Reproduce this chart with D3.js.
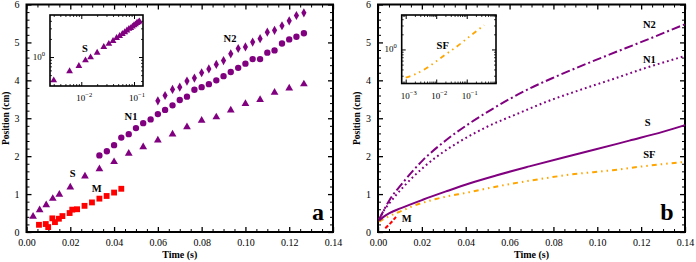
<!DOCTYPE html>
<html><head><meta charset="utf-8">
<script src="https://cdn.jsdelivr.net/npm/d3@7/dist/d3.min.js"></script>
<style>
body{margin:0;background:#fff}
text{font-family:"Liberation Serif","Times New Roman",serif;fill:#000}
</style>
</head><body>
<svg id="c" width="696" height="262"></svg>
<script>
// ---------- data ----------
const xTicks=[0,0.02,0.04,0.06,0.08,0.10,0.12,0.14];
const xTickLabels=["0.00","0.02","0.04","0.06","0.08","0.10","0.12","0.14"];
const yTicks=[0,1,2,3,4,5,6];
const yTickLabels=["0","1","2","3","4","5","6"];

// panel a : measurements
const sTime=[0.003,0.006,0.009,0.012,0.015,0.020,0.0267,0.0333,0.040,0.0467,0.0533,0.060,0.0667,0.0733,0.080,0.0867,0.0933,0.100,0.1067,0.1133,0.120,0.1267];
const sPos=[0.41,0.58,0.71,0.88,0.99,1.18,1.47,1.66,1.85,2.07,2.24,2.42,2.58,2.77,2.94,3.03,3.21,3.38,3.49,3.68,3.79,3.90];
const mTime=[0.0057,0.0088,0.0099,0.0118,0.0130,0.0148,0.0164,0.0197,0.0209,0.0231,0.0265,0.0299,0.0333,0.0366,0.0400,0.0433];
const mPos=[0.19,0.21,0.13,0.36,0.26,0.35,0.42,0.50,0.59,0.60,0.69,0.78,0.88,0.95,1.04,1.14];
const n1Time=[0.0333,0.0367,0.0400,0.0433,0.0467,0.0500,0.0533,0.0567,0.0600,0.0633,0.0667,0.0700,0.0733,0.0767,0.0800,0.0833,0.0867,0.0900,0.0933,0.0967,0.1000,0.1033,0.1067,0.1100,0.1133,0.1167,0.1200,0.1233,0.1267];
const n1Pos=[2.02,2.13,2.29,2.49,2.58,2.74,2.87,2.97,3.11,3.22,3.34,3.48,3.57,3.75,3.82,3.90,4.00,4.11,4.22,4.33,4.44,4.56,4.56,4.73,4.79,4.97,5.08,5.15,5.24];
const n2Time=[0.0600,0.0633,0.0667,0.0700,0.0733,0.0767,0.0800,0.0833,0.0867,0.0900,0.0933,0.0967,0.1000,0.1033,0.1067,0.1100,0.1133,0.1167,0.1200,0.1233,0.1267];
const n2Pos=[3.46,3.60,3.76,3.82,3.98,4.06,4.20,4.30,4.42,4.52,4.70,4.84,4.88,5.01,5.10,5.27,5.32,5.44,5.57,5.71,5.78];

// panel b : model curves
const bN2Time=[0.0005,0.0025,0.0052,0.0105,0.0204,0.031,0.0416,0.0523,0.069,0.0812,0.1025,0.1222,0.14];
const bN2Pos=[0.33,0.56,0.84,1.24,1.89,2.42,2.86,3.25,3.78,4.10,4.61,5.06,5.48];
const bN1Time=[0.0005,0.0025,0.0052,0.0082,0.0158,0.0264,0.0371,0.0492,0.0645,0.0766,0.0918,0.107,0.1222,0.14];
const bN1Pos=[0.33,0.55,0.76,0.97,1.44,1.97,2.38,2.76,3.14,3.43,3.74,4.03,4.33,4.64];
const bSTime=[0.0005,0.0025,0.0052,0.0105,0.0204,0.031,0.0416,0.0538,0.069,0.0842,0.0994,0.1146,0.1298,0.14];
const bSPos=[0.30,0.40,0.50,0.63,0.85,1.07,1.28,1.49,1.73,1.96,2.18,2.41,2.64,2.82];
const bSFTime=[0.0005,0.0025,0.0052,0.0105,0.0158,0.0264,0.0416,0.0568,0.072,0.0872,0.107,0.122,0.14];
const bSFPos=[0.27,0.34,0.42,0.55,0.68,0.87,1.05,1.23,1.38,1.51,1.63,1.74,1.85];
const bMTime=[0.0033,0.0055,0.0082];
const bMPos=[0.10,0.22,0.40];
// panel b inset (log-log)
const sfInsetTime=[0.001,0.002,0.005,0.01,0.02,0.05,0.1,0.2,0.37];
const sfInsetPos=[0.275,0.32,0.43,0.58,0.79,1.17,1.64,2.27,3.05];

const PURPLE="#800080", RED="#ff0000", ORANGE="#ffa500";

// ---------- drawing ----------
const svg=d3.select("#c");

function frameAxes(g,x,y){
  const xr=x.range(), yr=y.range();
  const xMinor=d3.range(0,0.1401,0.005).filter(v=>Math.abs(v/0.02-Math.round(v/0.02))>1e-6);
  const yMinor=d3.range(0,6.001,0.2).filter(v=>Math.abs(v-Math.round(v))>1e-6);
  const clean=s=>s.select(".domain").remove();
  const style=(s,w)=>s.selectAll("line").attr("stroke","#000").attr("stroke-width",w);
  g.append("g").attr("transform",`translate(0,${yr[0]})`)
    .call(d3.axisBottom(x).tickValues(xTicks).tickSize(-5).tickPadding(7).tickFormat((d,i)=>xTickLabels[i]))
    .call(clean).call(s=>style(s,1.3))
    .call(s=>s.selectAll("text").attr("font-size",10).attr("font-family","Liberation Serif"));
  g.append("g").attr("transform",`translate(0,${yr[0]})`)
    .call(d3.axisBottom(x).tickValues(xMinor).tickSize(-3).tickFormat(""))
    .call(clean).call(s=>style(s,1));
  g.append("g").attr("transform",`translate(0,${yr[1]})`)
    .call(d3.axisTop(x).tickValues(xTicks).tickSize(-5).tickFormat(""))
    .call(clean).call(s=>style(s,1.3));
  g.append("g").attr("transform",`translate(0,${yr[1]})`)
    .call(d3.axisTop(x).tickValues(xMinor).tickSize(-3).tickFormat(""))
    .call(clean).call(s=>style(s,1));
  g.append("g").attr("transform",`translate(${xr[0]},0)`)
    .call(d3.axisLeft(y).tickValues(yTicks).tickSize(-5).tickPadding(7).tickFormat((d,i)=>yTickLabels[i]))
    .call(clean).call(s=>style(s,1.3))
    .call(s=>s.selectAll("text").attr("font-size",10).attr("font-family","Liberation Serif"));
  g.append("g").attr("transform",`translate(${xr[0]},0)`)
    .call(d3.axisLeft(y).tickValues(yMinor).tickSize(-3).tickFormat(""))
    .call(clean).call(s=>style(s,1));
  g.append("g").attr("transform",`translate(${xr[1]},0)`)
    .call(d3.axisRight(y).tickValues(yTicks).tickSize(-5).tickFormat(""))
    .call(clean).call(s=>style(s,1.3));
  g.append("g").attr("transform",`translate(${xr[1]},0)`)
    .call(d3.axisRight(y).tickValues(yMinor).tickSize(-3).tickFormat(""))
    .call(clean).call(s=>style(s,1));
  g.append("rect").attr("x",xr[0]).attr("y",yr[1]).attr("width",xr[1]-xr[0]).attr("height",yr[0]-yr[1])
    .attr("fill","none").attr("stroke","#000").attr("stroke-width",2);
  g.append("text").attr("x",(xr[0]+xr[1])/2).attr("y",258).attr("text-anchor","middle")
    .attr("font-size",10).attr("font-weight","bold").text("Time (s)");
  g.append("text").attr("transform",`translate(${xr[0]-21},${(yr[0]+yr[1])/2}) rotate(-90)`)
    .attr("text-anchor","middle").attr("dy","0.35em").attr("font-size",9.5).attr("font-weight","bold").text("Position (cm)");
}

function logInset(g,box,xDom,yDom,xMajors,yMajors,xLabels,yLabels){
  const x=d3.scaleLog().domain(xDom).range([box.x0,box.x1]);
  const y=d3.scaleLog().domain(yDom).range([box.y1,box.y0]);
  g.append("rect").attr("x",box.x0).attr("y",box.y0).attr("width",box.x1-box.x0).attr("height",box.y1-box.y0)
    .attr("fill","#fff");
  const minors=(dom)=>{const out=[];for(let e=-4;e<=1;e++)for(let m=2;m<=9;m++){const v=m*Math.pow(10,e);if(v>dom[0]&&v<dom[1])out.push(v);}return out;};
  const xm=minors(xDom), ym=minors(yDom);
  const clean=s=>s.select(".domain").remove();
  const st=(s,w)=>s.selectAll("line").attr("stroke","#000").attr("stroke-width",w);
  [[d3.axisBottom,box.y1],[d3.axisTop,box.y0]].forEach(([ax,yy])=>{
    g.append("g").attr("transform",`translate(0,${yy})`)
      .call(ax(x).tickValues(xMajors).tickSize(-4).tickFormat(""))
      .call(clean).call(s=>st(s,1));
    g.append("g").attr("transform",`translate(0,${yy})`)
      .call(ax(x).tickValues(xm).tickSize(-2).tickFormat(""))
      .call(clean).call(s=>st(s,0.8));
  });
  [[d3.axisLeft,box.x0],[d3.axisRight,box.x1]].forEach(([ax,xx])=>{
    g.append("g").attr("transform",`translate(${xx},0)`)
      .call(ax(y).tickValues(yMajors).tickSize(-4).tickFormat(""))
      .call(clean).call(s=>st(s,1));
    g.append("g").attr("transform",`translate(${xx},0)`)
      .call(ax(y).tickValues(ym).tickSize(-2).tickFormat(""))
      .call(clean).call(s=>st(s,0.8));
  });
  g.append("rect").attr("x",box.x0).attr("y",box.y0).attr("width",box.x1-box.x0).attr("height",box.y1-box.y0)
    .attr("fill","none").attr("stroke","#000").attr("stroke-width",1.6);
  xMajors.forEach((v,i)=>{
    const t=g.append("text").attr("x",x(v)+3).attr("y",box.y1+15).attr("text-anchor","middle").attr("font-size",9);
    t.append("tspan").text("10");
    t.append("tspan").attr("dy",-4).attr("font-size",6.5).text(xLabels[i]);
  });
  yMajors.forEach((v,i)=>{
    const t=g.append("text").attr("x",box.x0-5).attr("y",y(v)+3).attr("text-anchor","end").attr("font-size",9);
    t.append("tspan").text("10");
    t.append("tspan").attr("dy",-4).attr("font-size",6.5).text(yLabels[i]);
  });
  return {x,y};
}

function label(g,x,y,txt,size){
  g.append("text").attr("x",x).attr("y",y).attr("dy","0.35em").attr("text-anchor","middle")
    .attr("font-size",size||10.5).attr("font-weight","bold").text(txt);
}

const diamond="M0,-4.6L2.6,0L0,4.6L-2.6,0Z";

// ===== Panel a =====
const ga=svg.append("g");
const xa=d3.scaleLinear().domain([0,0.14]).range([26.5,333]);
const ya=d3.scaleLinear().domain([0,6]).range([232,4.5]);
frameAxes(ga,xa,ya);

const tri=d3.symbol().type(d3.symbolTriangle).size(26)();
const triSmall=d3.symbol().type(d3.symbolTriangle).size(20)();
const circ=d3.symbol().type(d3.symbolCircle).size(32)();
const sq=d3.symbol().type(d3.symbolSquare).size(34)();

ga.append("g").selectAll("path").data(sTime).join("path")
  .attr("d",tri).attr("fill",PURPLE).attr("transform",(d,i)=>`translate(${xa(d)},${ya(sPos[i])})`);
ga.append("g").selectAll("path").data(mTime).join("path")
  .attr("d",sq).attr("fill",RED).attr("transform",(d,i)=>`translate(${xa(d)},${ya(mPos[i])})`);
ga.append("g").selectAll("path").data(n1Time).join("path")
  .attr("d",circ).attr("fill",PURPLE).attr("transform",(d,i)=>`translate(${xa(d)},${ya(n1Pos[i])})`);
ga.append("g").selectAll("path").data(n2Time).join("path")
  .attr("d",diamond).attr("fill",PURPLE).attr("transform",(d,i)=>`translate(${xa(d)},${ya(n2Pos[i])})`);

label(ga,72.7,173,"S");
label(ga,96.7,188,"M");
label(ga,131,116,"N1");
label(ga,230,38,"N2");
label(ga,318,212,"a",24);

const ia=logInset(ga,{x0:50,x1:143,y0:15,y1:86},[0.00255,0.148],[0.33,5.0],[0.01,0.1],[1],["−2","−1"],["0"]);
ga.append("g").selectAll("path").data(sTime).join("path")
  .attr("d",triSmall).attr("fill",PURPLE).attr("transform",(d,i)=>`translate(${ia.x(d)},${ia.y(sPos[i])})`);
label(ga,85,48,"S",10.5);

// ===== Panel b =====
const gb=svg.append("g");
const xb=d3.scaleLinear().domain([0,0.14]).range([378,685]);
const yb=d3.scaleLinear().domain([0,6]).range([232,4.5]);
frameAxes(gb,xb,yb);

const lineB=(T,P)=>d3.line().curve(d3.curveMonotoneX).x((d,i)=>xb(T[i])).y((d,i)=>yb(P[i]))(T);
const drawCurve=(T,P,color,dash,w)=>gb.append("path").attr("d",lineB(T,P)).attr("fill","none")
  .attr("stroke",color).attr("stroke-width",w||2).attr("stroke-dasharray",dash);

drawCurve(bSFTime,bSFPos,ORANGE,"5,4,1.5,4,1.5,4",2);
drawCurve(bSTime,bSPos,PURPLE,null,2);
drawCurve(bN1Time,bN1Pos,PURPLE,"1.8,3",2);
drawCurve(bN2Time,bN2Pos,PURPLE,"9,3,2,3",2);
drawCurve(bMTime,bMPos,RED,"4,2",2);

label(gb,649.3,24,"N2");
label(gb,649.3,59.3,"N1");
label(gb,647.7,122.7,"S");
label(gb,649.3,154,"SF");
label(gb,406.7,218.3,"M");
label(gb,667,212,"b",24);

const ib=logInset(gb,{x0:401.7,x1:496,y0:15,y1:83.5},[0.00074,0.91],[0.21,4.85],[0.001,0.01,0.1],[1],["−3","−2","−1"],["0"]);
gb.append("path").attr("d",d3.line().curve(d3.curveMonotoneX).x((d,i)=>ib.x(sfInsetTime[i])).y((d,i)=>ib.y(sfInsetPos[i]))(sfInsetTime))
  .attr("fill","none").attr("stroke",ORANGE).attr("stroke-width",1.8).attr("stroke-dasharray","5,4,1.5,4,1.5,4");
label(gb,442.7,45,"SF",10.5);
</script>
</body></html>
